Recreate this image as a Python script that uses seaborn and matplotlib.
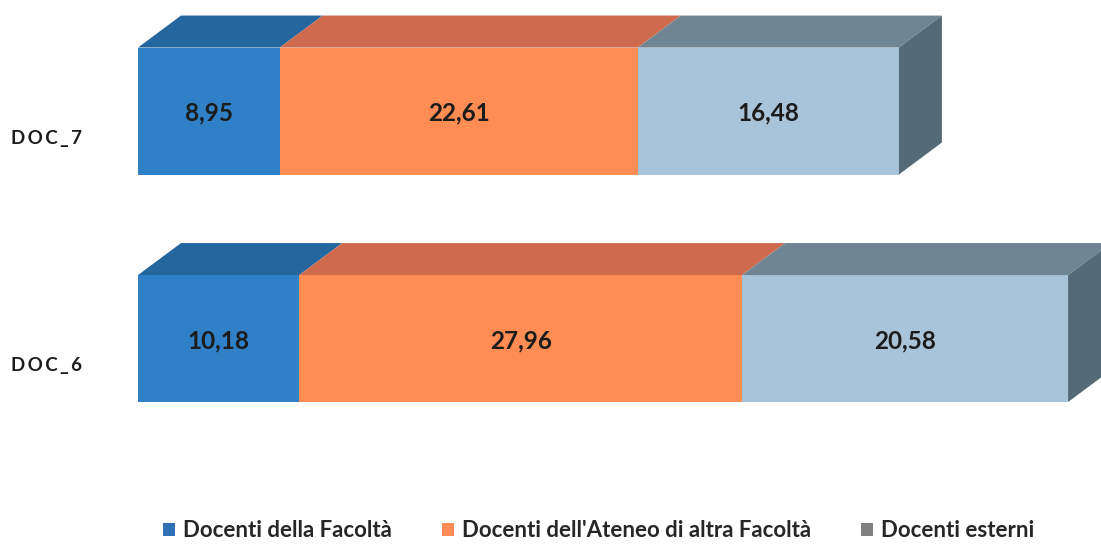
import pandas as pd
import matplotlib.pyplot as plt
import seaborn as sns
from matplotlib.patches import Polygon, Patch
import matplotlib.transforms as mtransforms


categories = ['DOC_7', 'DOC_6']
series = ['Docenti della Facoltà', "Docenti dell'Ateneo di altra Facoltà", 'Docenti esterni']
facolta = [8.95, 10.18]
ateneo = [22.61, 27.96]
esterni = [16.48, 20.58]

front_colors = ['#2f80c6', '#ff8c52', '#a9c3d9']
top_colors = ['#24679f', '#d06a4e', '#6f8593']
side_color = '#546b77'
legend_colors = ['#2f72b8', '#ff8c55', '#808080']

sns.set_style('white')
plt.rcParams['font.family'] = ['Lato', 'DejaVu Sans']

df = pd.DataFrame({'cat': categories, 's1': facolta, 's2': ateneo, 's3': esterni})
df['c1'] = df['s1']
df['c2'] = df['c1'] + df['s2']
df['c3'] = df['c2'] + df['s3']

fig = plt.figure(figsize=(11.01, 5.44), dpi=100)
ax = fig.add_axes([138 / 1101, 0, 1 - 138 / 1101, 1])

bar_w = 0.558
# front faces: cumulative totals drawn back to front
for col, c in zip(['c3', 'c2', 'c1'], front_colors[::-1]):
    sns.barplot(data=df, x=col, y='cat', order=categories, color=c,
                width=bar_w, linewidth=0, saturation=1, ax=ax, orient='h')

ax.set_xlim(0, 60.8)
ax.set_ylim(1.903, -0.488)

# 3D depth offsets in data units
dx = 43 / 15.838
dy = -32 / 227.5

for i, cat in enumerate(categories):
    top = i - bar_w / 2
    bottom = i + bar_w / 2
    lefts = [0, df['c1'][i], df['c2'][i]]
    rights = [df['c1'][i], df['c2'][i], df['c3'][i]]
    for l, r, tc in zip(lefts, rights, top_colors):
        ax.add_patch(Polygon([(l, top), (r, top), (r + dx, top + dy), (l + dx, top + dy)],
                             closed=True, facecolor=tc, edgecolor='none', clip_on=False))
    tot = df['c3'][i]
    ax.add_patch(Polygon([(tot, top), (tot + dx, top + dy), (tot + dx, bottom + dy), (tot, bottom)],
                         closed=True, facecolor=side_color, edgecolor='none', clip_on=False))
    vals = [df['s1'][i], df['s2'][i], df['s3'][i]]
    for l, r, v in zip(lefts, rights, vals):
        ax.text((l + r) / 2, i + 0.01, f'{v:.2f}'.replace('.', ','), ha='center', va='center',
                fontsize=17.5, fontweight='bold', color='#1c1c1c')
    trans = mtransforms.blended_transform_factory(fig.transFigure, ax.transData)
    ax.text(11 / 1101, i + 0.12, '\u2009'.join(cat), ha='left', va='center', transform=trans,
            fontsize=13.5, fontweight='bold', color='#1c1c1c')

ax.axis('off')

handles = [Patch(facecolor=c, edgecolor='none') for c in legend_colors]
fig.legend(handles, series, loc='center', bbox_to_anchor=(0.5436, 0.024), ncol=3,
           frameon=False, handlelength=0.55, handleheight=0.55, handletextpad=0.35,
           columnspacing=2.25, prop={'weight': 'bold', 'size': 16})

fig.savefig('out.png', dpi=100, facecolor='white')
